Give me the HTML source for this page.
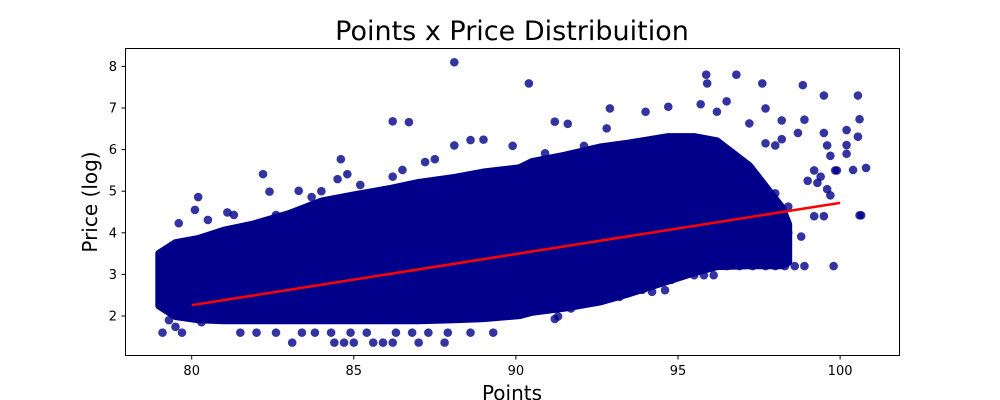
<!DOCTYPE html>
<html><head><meta charset="utf-8"><style>
html,body{margin:0;padding:0;background:#fff;width:1000px;height:400px;overflow:hidden}
svg text{font-family:"DejaVu Sans","Liberation Sans",sans-serif;fill:#000}
</style></head><body>
<svg id="chart" width="1000" height="400" xmlns="http://www.w3.org/2000/svg">
<rect x="0" y="0" width="1000" height="400" fill="#fff"/>
<text x="512" y="40" font-size="27" text-anchor="middle">Points x Price Distribuition</text>
<g id="plot"></g>
<rect x="125.5" y="48.5" width="774" height="307" fill="none" stroke="#000" stroke-width="1"/>
<g id="xt"></g>
<g id="yt"></g>
<text x="512" y="400" font-size="20" text-anchor="middle">Points</text>
<text x="0" y="0" font-size="20" text-anchor="middle" transform="translate(97,202) rotate(-90)">Price (log)</text>
</svg>
<script>
const xTicks=[80,85,90,95,100];
const yTicks=[2,3,4,5,6,7,8];
const bandX=[79,79.5,80.2,81,81.9,83,84,85,86.1,87,88.1,89,90.1,90.5,91.5,92.6,93.5,94.7,95.5,96.2,97.2,97.8,98.2,98.4];
const bandUpper=[3.5,3.75,3.85,4.05,4.2,4.45,4.75,4.9,5.05,5.2,5.32,5.45,5.55,5.7,5.85,6.05,6.15,6.3,6.3,6.2,5.6,5.0,4.6,4.2];
const bandLower=[2.25,2.0,1.92,1.9,1.9,1.9,1.9,1.9,1.9,1.9,1.92,1.95,2.02,2.1,2.2,2.35,2.55,2.85,3.05,3.2,3.22,3.22,3.22,3.3];
const outX=[88.1,86.2,86.7,88.1,88.6,89.0,84.6,82.2,82.4,80.2,80.1,79.6,79.1,79.7,
83.1,84.4,84.7,85.0,85.6,85.9,86.2,87,87.8,
81.5,82.0,82.6,83.4,83.8,84.3,84.9,85.4,86.3,86.8,87.3,87.9,88.6,89.3,
90.4,95.87,95.9,96.8,97.6,98.85,99.5,100.55,100.6,98.9,100.55,100.8,100.4,100.2,100.2,100.2,
99.5,99.6,99.7,99.9,99.85,99.2,99.4,99.0,99.3,98.7,98.2,98.0,98.2,99.6,99.7,99.2,99.5,100.6,100.65,99.8,98.1,98.8,98.4,
92.9,91.2,91.6,95.7,96.5,97.7,91.2,91.3,94.6,94.2,96.1,95.5,95.8,
96.5,96.9,97.3,97.7,98.0,98.3,98.6,98.9,
80.5,81.1,81.3,82.6,83.3,83.7,84.0,84.5,84.8,85.2,86.2,86.5,87.2,87.5,
89.9,90.9,92.1,92.8,94.0,94.7,96.2,97.2,97.7,97.3,98.0,98.4,98.3,98.0,97.5,96.7,
94.8,93.9,93.2,92.5,91.7,90.5,79.3,79.5,80.3];
const outY=[8.1,6.68,6.66,6.1,6.23,6.24,5.77,5.41,4.99,4.86,4.55,4.23,1.6,1.6,
1.36,1.36,1.36,1.36,1.36,1.36,1.36,1.36,1.36,
1.6,1.6,1.6,1.6,1.6,1.6,1.6,1.6,1.6,1.6,1.6,1.6,1.6,1.6,
7.59,7.8,7.59,7.8,7.59,7.55,7.3,7.3,6.73,6.72,6.31,5.56,5.51,6.47,6.11,5.9,
6.4,6.1,5.85,5.5,5.5,5.5,5.35,5.25,5.2,6.4,6.25,6.1,6.7,5.05,4.9,4.4,4.4,4.42,4.42,3.2,3.79,3.91,4.0,
6.99,6.67,6.62,7.09,7.16,6.99,1.93,1.99,2.62,2.58,2.98,2.98,2.98,
3.2,3.2,3.2,3.2,3.2,3.2,3.2,3.2,
4.31,4.49,4.43,4.43,5.01,4.86,5.0,5.29,5.41,5.15,5.35,5.51,5.7,5.77,
6.09,5.91,6.09,6.51,6.91,7.03,6.91,6.63,6.15,5.19,4.95,4.63,4.0,4.05,3.51,3.51,
2.87,2.63,2.46,2.38,2.18,2.14,1.9,1.74,1.85];
const lineX=[80,100];
const lineY=[2.26,4.72];

const NS='http://www.w3.org/2000/svg';
function sx(v){return 191.7+(v-80)*32.42;}
function sy(v){return 316-(v-2)*41.6;}
function mk(t,a,p){const e=document.createElementNS(NS,t);for(const k in a)e.setAttribute(k,a[k]);p.appendChild(e);return e;}
const plot=document.getElementById('plot');
let pts=[];
for(let i=0;i<bandX.length;i++)pts.push(sx(bandX[i]).toFixed(1)+','+sy(bandUpper[i]).toFixed(1));
for(let i=bandX.length-1;i>=0;i--)pts.push(sx(bandX[i]).toFixed(1)+','+sy(bandLower[i]).toFixed(1));
const band=mk('polygon',{points:pts.join(' '),fill:'#00008b',stroke:'#00008b','stroke-width':8,'stroke-linejoin':'round'},plot);


for(let i=0;i<outX.length;i++){
 const c=mk('circle',{cx:sx(outX[i]),cy:sy(outY[i]),r:4.3,fill:'#00008b','fill-opacity':0.8},plot);
 
 
}
const ln=mk('line',{x1:sx(lineX[0]),y1:sy(lineY[0]),x2:sx(lineX[1]),y2:sy(lineY[1]),stroke:'#ff0000','stroke-width':2.5},plot);


const xt=document.getElementById('xt'),yt=document.getElementById('yt');
xTicks.forEach(v=>{
 const x=sx(v);
 const t=mk('line',{x1:x,y1:356,x2:x,y2:359.5,stroke:'#000'},xt);
 
 
 const l=mk('text',{x:x,y:375,'font-size':13,'text-anchor':'middle'},xt);l.textContent=v;
 
 
});
yTicks.forEach(v=>{
 const y=sy(v);
 const t=mk('line',{x1:121.5,y1:y,x2:125,y2:y,stroke:'#000'},yt);
 
 
 const l=mk('text',{x:117,y:y+4.5,'font-size':13,'text-anchor':'end'},yt);l.textContent=v;
 
 
});
</script>
</body></html>
